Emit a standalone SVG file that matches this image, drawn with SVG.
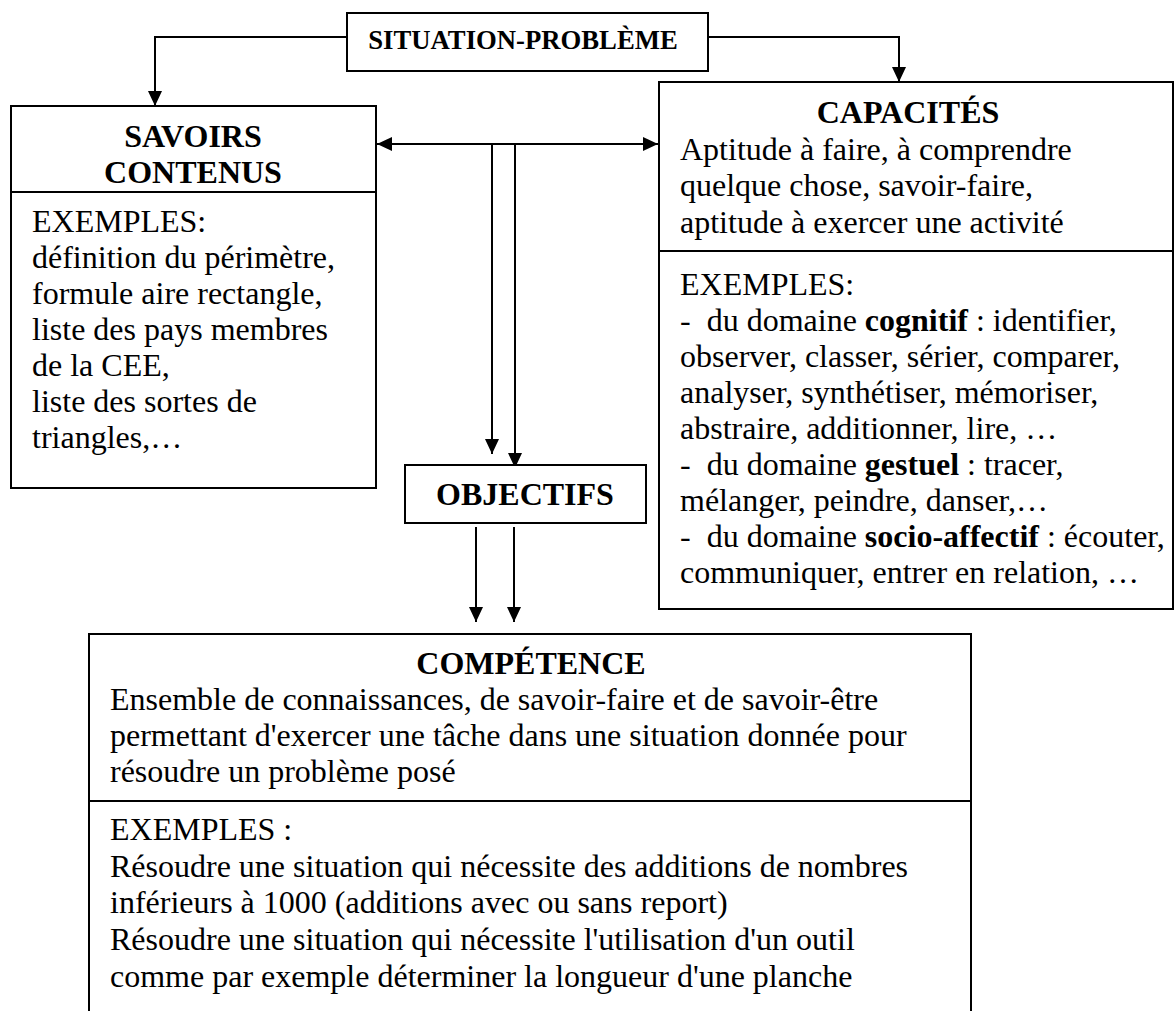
<svg xmlns="http://www.w3.org/2000/svg" width="1175" height="1011" viewBox="0 0 1175 1011">
<defs>
<style>
.box{fill:#fff;stroke:#000;stroke-width:2}
.div{stroke:#000;stroke-width:2}
.con{fill:none;stroke:#000;stroke-width:2}
text{font-family:"Liberation Serif","Times New Roman",serif;fill:#000}
.t{font-size:32px;font-weight:bold;text-anchor:middle}
.b{font-size:32px}
.sp{font-size:26.7px;font-weight:bold;text-anchor:middle}
.bold{font-weight:bold}
</style>
<marker id="ah" markerWidth="15" markerHeight="14" refX="15" refY="7" orient="auto-start-reverse" markerUnits="userSpaceOnUse">
<path d="M0,0 L15,7 L0,14 z" fill="#000"/>
</marker>
</defs>
<rect width="1175" height="1011" fill="#fff"/>

<g id="connectors">
<path class="con" d="M347,37 H155 V106" marker-end="url(#ah)"/>
<path class="con" d="M708,37 H899 V82" marker-end="url(#ah)"/>
<path class="con" d="M377,144 H658" marker-start="url(#ah)" marker-end="url(#ah)"/>
<path class="con" d="M492,144 V454" marker-end="url(#ah)"/>
<path class="con" d="M515,144 V468" marker-end="url(#ah)"/>
<path class="con" d="M476,527 V622" marker-end="url(#ah)"/>
<path class="con" d="M514,527 V622" marker-end="url(#ah)"/>
</g>

<g id="situation-probleme">
<rect class="box" x="347" y="13" width="361" height="58"/>
<text class="sp" x="523" y="49">SITUATION-PROBLÈME</text>
</g>

<g id="savoirs">
<rect class="box" x="11" y="106" width="365" height="382"/>
<line class="div" x1="11" y1="192" x2="376" y2="192"/>
<text class="t" x="193" y="147">SAVOIRS</text>
<text class="t" x="193" y="183">CONTENUS</text>
<text class="b" x="32" y="232">EXEMPLES:</text>
<text class="b" x="32" y="268">définition du périmètre,</text>
<text class="b" x="32" y="304">formule aire rectangle,</text>
<text class="b" x="32" y="340">liste des pays membres</text>
<text class="b" x="32" y="376">de la CEE,</text>
<text class="b" x="32" y="412">liste des sortes de</text>
<text class="b" x="32" y="448">triangles,…</text>
</g>

<g id="capacites">
<rect class="box" x="659" y="82" width="514" height="527"/>
<line class="div" x1="659" y1="251" x2="1173" y2="251"/>
<text class="t" x="908" y="123">CAPACITÉS</text>
<text class="b" x="680" y="160">Aptitude à faire, à comprendre</text>
<text class="b" x="680" y="196">quelque chose, savoir-faire,</text>
<text class="b" x="680" y="233">aptitude à exercer une activité</text>
<text class="b" x="680" y="295">EXEMPLES:</text>
<text class="b" x="680" y="331" xml:space="preserve">-  du domaine <tspan class="bold">cognitif</tspan> : identifier,</text>
<text class="b" x="680" y="367">observer, classer, sérier, comparer,</text>
<text class="b" x="680" y="403">analyser, synthétiser, mémoriser,</text>
<text class="b" x="680" y="439">abstraire, additionner, lire, …</text>
<text class="b" x="680" y="475" xml:space="preserve">-  du domaine <tspan class="bold">gestuel</tspan> : tracer,</text>
<text class="b" x="680" y="511">mélanger, peindre, danser,…</text>
<text class="b" x="680" y="547" xml:space="preserve">-  du domaine <tspan class="bold">socio-affectif</tspan> : écouter,</text>
<text class="b" x="680" y="583">communiquer, entrer en relation, …</text>
</g>

<g id="objectifs">
<rect class="box" x="405" y="465" width="241" height="58"/>
<text class="t" x="525" y="505">OBJECTIFS</text>
</g>

<g id="competence">
<path class="box" d="M89,1012 V634 H971 V1012"/>
<line class="div" x1="89" y1="801" x2="971" y2="801"/>
<text class="t" x="531" y="674">COMPÉTENCE</text>
<text class="b" x="110" y="710">Ensemble de connaissances, de savoir-faire et de savoir-être</text>
<text class="b" x="110" y="746">permettant d'exercer une tâche dans une situation donnée pour</text>
<text class="b" x="110" y="782">résoudre un problème posé</text>
<text class="b" x="110" y="840">EXEMPLES :</text>
<text class="b" x="110" y="877">Résoudre une situation qui nécessite des additions de nombres</text>
<text class="b" x="110" y="913">inférieurs à 1000 (additions avec ou sans report)</text>
<text class="b" x="110" y="950">Résoudre une situation qui nécessite l'utilisation d'un outil</text>
<text class="b" x="110" y="987">comme par exemple déterminer la longueur d'une planche</text>
</g>
</svg>
